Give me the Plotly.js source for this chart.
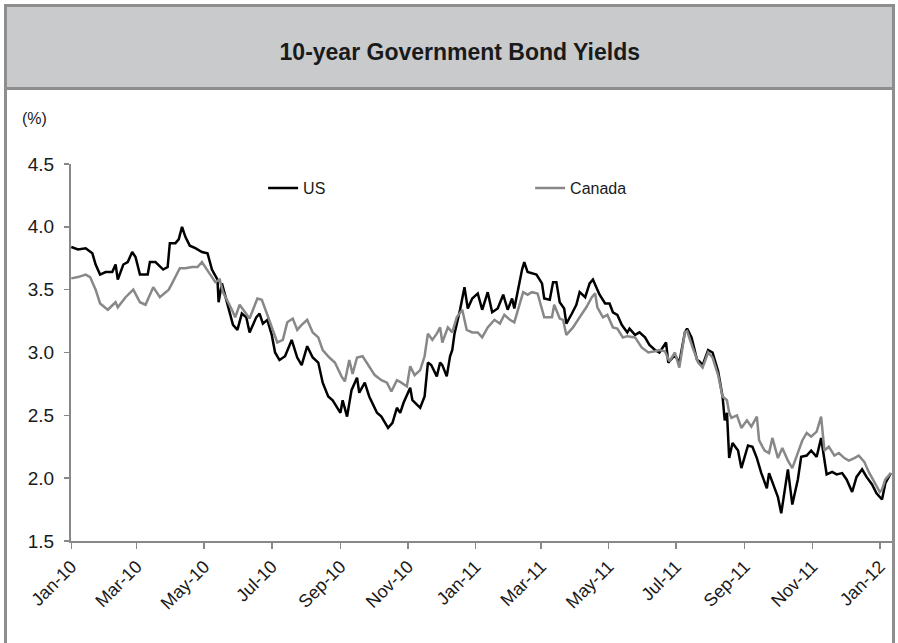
<!DOCTYPE html>
<html><head><meta charset="utf-8">
<script src="https://cdn.plot.ly/plotly-3.0.1.min.js"></script>
<style>
html,body{margin:0;padding:0;background:#fff;width:898px;height:643px;overflow:hidden;}
#frame{position:absolute;left:4px;top:4px;width:885px;height:660px;border:3px solid #8e8e8e;box-sizing:content-box;}
#band{position:absolute;left:7px;top:7px;width:885px;height:80px;background:#c9cacc;border-bottom:3px solid #8e8e8e;}
#chart{position:absolute;left:0;top:0;width:898px;height:643px;}
</style></head>
<body>
<div id="frame"></div><div id="band"></div>
<div id="chart"></div>
<script>
const chartTitle = '10-year Government Bond Yields';
const unitLabel = '(%)';
const seriesNames = ['US', 'Canada'];

const usDates = ['2010-01-01','2010-01-07','2010-01-14','2010-01-20','2010-01-23','2010-01-27','2010-02-01','2010-02-07','2010-02-10','2010-02-12','2010-02-17','2010-02-21','2010-02-25','2010-02-28','2010-03-04','2010-03-11','2010-03-13','2010-03-18','2010-03-25','2010-03-29','2010-03-31','2010-04-05','2010-04-08','2010-04-11','2010-04-14','2010-04-18','2010-04-23','2010-04-29','2010-05-04','2010-05-08','2010-05-13','2010-05-14','2010-05-17','2010-05-23','2010-05-27','2010-05-31','2010-06-04','2010-06-08','2010-06-11','2010-06-17','2010-06-20','2010-06-23','2010-06-27','2010-07-01','2010-07-04','2010-07-08','2010-07-13','2010-07-19','2010-07-24','2010-07-28','2010-08-02','2010-08-07','2010-08-12','2010-08-16','2010-08-21','2010-08-25','2010-09-01','2010-09-03','2010-09-07','2010-09-11','2010-09-16','2010-09-18','2010-09-23','2010-09-27','2010-10-04','2010-10-08','2010-10-14','2010-10-18','2010-10-22','2010-10-25','2010-10-28','2010-11-03','2010-11-05','2010-11-12','2010-11-16','2010-11-19','2010-11-22','2010-11-27','2010-11-30','2010-12-02','2010-12-06','2010-12-09','2010-12-11','2010-12-13','2010-12-18','2010-12-22','2010-12-25','2010-12-29','2011-01-03','2011-01-07','2011-01-12','2011-01-16','2011-01-21','2011-01-26','2011-01-30','2011-02-03','2011-02-05','2011-02-12','2011-02-14','2011-02-17','2011-02-21','2011-02-25','2011-03-02','2011-03-04','2011-03-09','2011-03-12','2011-03-15','2011-03-18','2011-03-22','2011-03-24','2011-03-29','2011-04-02','2011-04-05','2011-04-10','2011-04-14','2011-04-17','2011-04-21','2011-04-23','2011-04-28','2011-05-02','2011-05-05','2011-05-09','2011-05-13','2011-05-18','2011-05-20','2011-05-25','2011-05-29','2011-06-03','2011-06-07','2011-06-12','2011-06-16','2011-06-22','2011-06-24','2011-06-30','2011-07-04','2011-07-09','2011-07-11','2011-07-15','2011-07-20','2011-07-22','2011-07-25','2011-07-30','2011-08-03','2011-08-08','2011-08-12','2011-08-14','2011-08-16','2011-08-18','2011-08-21','2011-08-26','2011-08-29','2011-09-01','2011-09-04','2011-09-08','2011-09-12','2011-09-16','2011-09-21','2011-09-23','2011-09-28','2011-10-01','2011-10-04','2011-10-07','2011-10-10','2011-10-14','2011-10-19','2011-10-22','2011-10-27','2011-10-31','2011-11-05','2011-11-09','2011-11-12','2011-11-14','2011-11-19','2011-11-23','2011-11-28','2011-12-02','2011-12-07','2011-12-11','2011-12-16','2011-12-20','2011-12-25','2011-12-29','2012-01-03','2012-01-06','2012-01-11'];
const usYields = [3.84,3.82,3.83,3.79,3.70,3.62,3.64,3.64,3.70,3.58,3.70,3.72,3.80,3.76,3.62,3.62,3.72,3.72,3.66,3.68,3.87,3.87,3.90,4.00,3.92,3.85,3.83,3.80,3.79,3.66,3.58,3.40,3.55,3.36,3.22,3.18,3.31,3.28,3.16,3.28,3.31,3.23,3.26,3.14,3.00,2.94,2.97,3.10,2.96,2.90,3.05,2.96,2.92,2.76,2.65,2.62,2.52,2.62,2.49,2.70,2.80,2.68,2.76,2.65,2.52,2.49,2.40,2.44,2.56,2.52,2.60,2.72,2.62,2.56,2.65,2.92,2.90,2.81,2.92,2.90,2.81,2.97,3.02,3.15,3.34,3.52,3.35,3.43,3.47,3.34,3.48,3.32,3.35,3.46,3.34,3.43,3.35,3.66,3.72,3.64,3.63,3.62,3.55,3.43,3.42,3.56,3.56,3.40,3.35,3.23,3.31,3.38,3.48,3.44,3.55,3.58,3.50,3.46,3.39,3.39,3.32,3.30,3.22,3.16,3.19,3.14,3.16,3.12,3.06,3.02,3.00,3.08,2.92,2.98,2.92,3.16,3.19,3.12,2.94,2.93,2.90,3.02,3.00,2.85,2.65,2.46,2.52,2.16,2.28,2.22,2.08,2.17,2.26,2.25,2.16,2.04,1.92,2.04,1.93,1.85,1.72,1.91,2.07,1.79,1.99,2.17,2.18,2.22,2.17,2.32,2.14,2.03,2.05,2.03,2.04,1.99,1.89,2.01,2.07,2.01,1.95,1.88,1.83,1.96,2.04];

const caDates = ['2010-01-01','2010-01-07','2010-01-14','2010-01-18','2010-01-23','2010-01-27','2010-02-03','2010-02-10','2010-02-12','2010-02-19','2010-02-26','2010-03-04','2010-03-09','2010-03-16','2010-03-22','2010-03-30','2010-04-02','2010-04-09','2010-04-14','2010-04-20','2010-04-25','2010-04-29','2010-05-05','2010-05-11','2010-05-15','2010-05-18','2010-05-26','2010-05-29','2010-06-02','2010-06-07','2010-06-11','2010-06-18','2010-06-22','2010-06-27','2010-07-02','2010-07-06','2010-07-11','2010-07-15','2010-07-20','2010-07-24','2010-07-28','2010-08-02','2010-08-07','2010-08-12','2010-08-16','2010-08-22','2010-08-27','2010-09-02','2010-09-05','2010-09-09','2010-09-12','2010-09-16','2010-09-21','2010-09-27','2010-10-02','2010-10-08','2010-10-13','2010-10-17','2010-10-22','2010-10-26','2010-10-31','2010-11-03','2010-11-07','2010-11-12','2010-11-16','2010-11-19','2010-11-23','2010-11-27','2010-11-30','2010-12-02','2010-12-07','2010-12-11','2010-12-15','2010-12-20','2010-12-24','2010-12-29','2011-01-03','2011-01-07','2011-01-12','2011-01-18','2011-01-23','2011-01-27','2011-02-01','2011-02-05','2011-02-10','2011-02-13','2011-02-17','2011-02-21','2011-02-26','2011-03-02','2011-03-04','2011-03-11','2011-03-13','2011-03-18','2011-03-21','2011-03-24','2011-03-30','2011-04-05','2011-04-11','2011-04-16','2011-04-19','2011-04-21','2011-04-26','2011-04-30','2011-05-05','2011-05-09','2011-05-14','2011-05-18','2011-05-25','2011-05-31','2011-06-06','2011-06-12','2011-06-16','2011-06-21','2011-06-25','2011-06-30','2011-07-04','2011-07-09','2011-07-11','2011-07-16','2011-07-21','2011-07-25','2011-07-30','2011-08-03','2011-08-08','2011-08-12','2011-08-16','2011-08-18','2011-08-20','2011-08-25','2011-08-29','2011-09-03','2011-09-07','2011-09-12','2011-09-14','2011-09-19','2011-09-23','2011-09-26','2011-10-01','2011-10-05','2011-10-10','2011-10-14','2011-10-19','2011-10-23','2011-10-27','2011-10-31','2011-11-05','2011-11-09','2011-11-12','2011-11-16','2011-11-21','2011-11-25','2011-11-30','2011-12-04','2011-12-09','2011-12-13','2011-12-18','2011-12-22','2011-12-27','2012-01-01','2012-01-03','2012-01-06','2012-01-11'];
const caYields = [3.59,3.60,3.62,3.60,3.50,3.39,3.34,3.40,3.36,3.44,3.50,3.40,3.38,3.52,3.44,3.50,3.55,3.67,3.67,3.68,3.68,3.72,3.64,3.56,3.58,3.48,3.34,3.28,3.38,3.32,3.27,3.43,3.42,3.30,3.18,3.08,3.10,3.24,3.27,3.18,3.22,3.26,3.16,3.12,3.02,2.96,2.92,2.81,2.77,2.94,2.83,2.96,2.97,2.89,2.82,2.78,2.76,2.69,2.78,2.76,2.73,2.89,2.82,2.86,2.97,3.15,3.10,3.15,3.20,3.08,3.20,3.16,3.28,3.34,3.18,3.16,3.16,3.12,3.20,3.26,3.23,3.30,3.26,3.24,3.40,3.48,3.46,3.48,3.47,3.35,3.28,3.28,3.38,3.27,3.26,3.14,3.20,3.28,3.36,3.44,3.47,3.36,3.28,3.30,3.20,3.19,3.12,3.13,3.12,3.04,3.00,3.01,3.02,3.01,2.93,3.00,2.88,3.16,3.17,3.04,2.92,2.88,3.00,2.96,2.82,2.65,2.62,2.52,2.48,2.50,2.40,2.46,2.41,2.49,2.30,2.22,2.20,2.32,2.16,2.24,2.14,2.08,2.20,2.30,2.36,2.33,2.37,2.49,2.22,2.25,2.18,2.20,2.16,2.14,2.16,2.18,2.13,2.05,1.97,1.89,1.91,1.99,2.04];

const FONT = 'Liberation Sans, Arial, sans-serif';

const traces = [
  {x: usDates, y: usYields, name: seriesNames[0], type: 'scatter', mode: 'lines',
   line: {color: '#000000', width: 2.5}},
  {x: caDates, y: caYields, name: seriesNames[1], type: 'scatter', mode: 'lines',
   line: {color: '#888888', width: 2.5}}
];

const layout = {
  width: 898, height: 643,
  margin: {l: 71, r: 6, t: 164, b: 102},
  paper_bgcolor: 'rgba(0,0,0,0)', plot_bgcolor: 'rgba(0,0,0,0)',
  font: {family: FONT, color: '#1a1a1a'},
  title: {text: '<b>' + chartTitle + '</b>', font: {family: FONT, size: 23, color: '#1a1a1a'},
          xref: 'container', x: 0.512, xanchor: 'center', yref: 'container', y: 0.919, yanchor: 'middle'},
  xaxis: {type: 'date', range: ['2009-12-31 18:00', '2012-01-12'], tick0: '2010-01-01', dtick: 'M2',
          tickformat: '%b-%y', tickangle: -45, ticks: 'outside', ticklen: 6, tickwidth: 1.5, tickcolor: '#888',
          showline: true, linecolor: '#888', linewidth: 2, showgrid: false, zeroline: false,
          tickfont: {family: FONT, size: 18, color: '#1a1a1a'}},
  yaxis: {range: [1.5, 4.5], dtick: 0.5, tick0: 1.5, tickformat: '.1f', ticks: 'outside', ticklen: 5, tickwidth: 1.5,
          tickcolor: '#888', showline: true, linecolor: '#888', linewidth: 2, showgrid: false, zeroline: false,
          ticklabelstandoff: 6, tickfont: {family: FONT, size: 19, color: '#1a1a1a'}},
  legend: {orientation: 'h', x: 0.234, xanchor: 'left', y: 0.936, yanchor: 'middle',
           entrywidth: 222, entrywidthmode: 'pixels', bgcolor: 'rgba(0,0,0,0)',
           font: {family: FONT, size: 16, color: '#1a1a1a'}},
  showlegend: true,
  annotations: [{text: unitLabel, xref: 'paper', yref: 'paper', x: -0.044, y: 1.122,
                 xanchor: 'center', yanchor: 'middle', showarrow: false,
                 font: {family: FONT, size: 16, color: '#1a1a1a'}}]
};

Plotly.newPlot('chart', traces, layout, {staticPlot: true, displayModeBar: false});
</script>
</body></html>
